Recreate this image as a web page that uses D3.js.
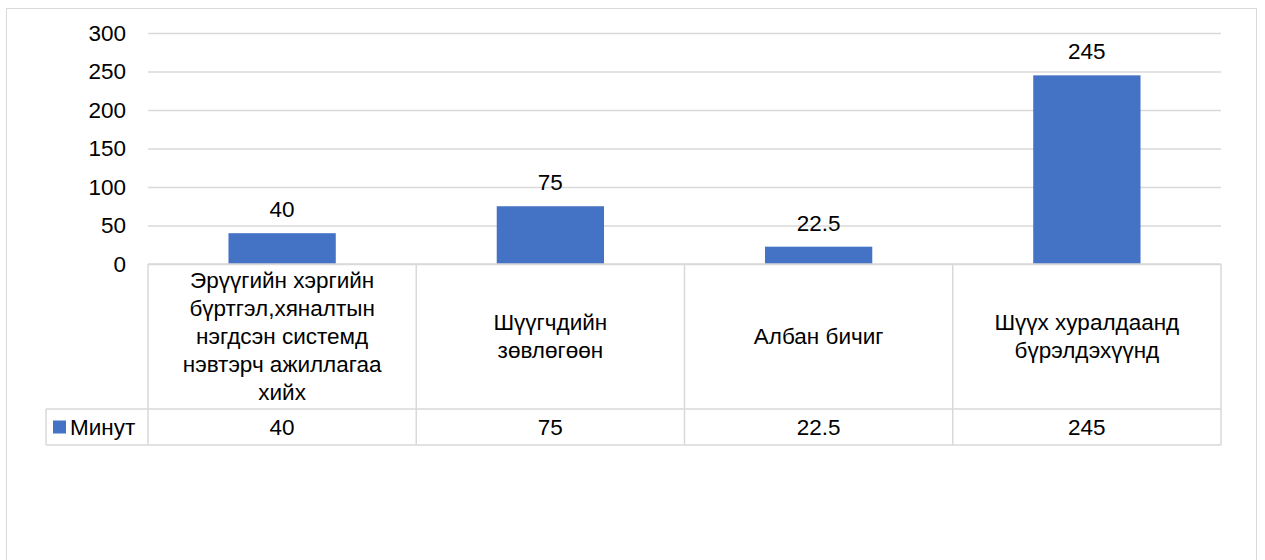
<!DOCTYPE html>
<html>
<head>
<meta charset="utf-8">
<script src="https://cdn.jsdelivr.net/npm/d3@7"></script>
<style>
  body { margin: 0; background: #fff; }
  svg text { font-family: "Liberation Sans", Arial, sans-serif; fill: #000; }
</style>
</head>
<body>
<div id="chart"></div>
<script>
const categories = [
    "Эрүүгийн хэргийн бүртгэл,хяналтын нэгдсэн системд нэвтэрч ажиллагаа хийх",
    "Шүүгчдийн зөвлөгөөн",
    "Албан бичиг",
    "Шүүх хуралдаанд бүрэлдэхүүнд"
];
const categoryLines = [
    ["Эрүүгийн хэргийн", "бүртгэл,хяналтын", "нэгдсэн системд", "нэвтэрч ажиллагаа", "хийх"],
    ["Шүүгчдийн", "зөвлөгөөн"],
    ["Албан бичиг"],
    ["Шүүх хуралдаанд", "бүрэлдэхүүнд"]
];
const seriesName = "Минут";
const minutes = [40, 75, 22.5, 245];
const yTicks = [0, 50, 100, 150, 200, 250, 300];

const width = 1265, height = 560;
const plot = {left: 148, right: 1221, top: 33, bottom: 264};
const table = {legendLeft: 46, headerBottom: 409, rowBottom: 445};
const barColor = "#4472C4";
const gridColor = "#d9d9d9";
const fontSize = 22.5;

const svg = d3.select("#chart")
    .append("svg")
    .attr("width", width)
    .attr("height", height);

// outer chart border
svg.append("rect")
    .attr("x", 6.5)
    .attr("y", 8.5)
    .attr("width", 1250)
    .attr("height", 570)
    .attr("fill", "#fff")
    .attr("stroke", gridColor);

const xScale = d3.scaleBand()
    .domain(categories)
    .range([plot.left, plot.right])
    .paddingInner(0)
    .paddingOuter(0);

const yScale = d3.scaleLinear()
    .domain([0, 300])
    .range([plot.bottom, plot.top]);

// gridlines
svg.append("g")
    .attr("transform", `translate(${plot.left},0)`)
    .call(d3.axisLeft(yScale).tickValues(yTicks).tickSize(-(plot.right - plot.left)).tickFormat(""))
    .call(g => g.select(".domain").remove())
    .call(g => g.selectAll("line").attr("stroke", gridColor).attr("stroke-width", 1.5));

// y tick labels
svg.append("g")
    .selectAll("text")
    .data(yTicks)
    .enter()
    .append("text")
    .attr("x", 126)
    .attr("y", d => yScale(d))
    .attr("dy", "0.35em")
    .attr("text-anchor", "end")
    .style("font-size", fontSize + "px")
    .text(d => d);

// bars
const barWidth = xScale.bandwidth() * 0.4;
svg.append("g")
    .selectAll("rect")
    .data(minutes)
    .enter()
    .append("rect")
    .attr("x", (d, i) => xScale(categories[i]) + (xScale.bandwidth() - barWidth) / 2)
    .attr("y", d => yScale(d))
    .attr("width", barWidth)
    .attr("height", d => yScale(0) - yScale(d))
    .attr("fill", barColor);

// data labels
svg.append("g")
    .selectAll("text")
    .data(minutes)
    .enter()
    .append("text")
    .attr("x", (d, i) => xScale(categories[i]) + xScale.bandwidth() / 2)
    .attr("y", d => yScale(d) - 16)
    .attr("text-anchor", "middle")
    .style("font-size", fontSize + "px")
    .text(d => d);

// data table
const tableG = svg.append("g")
    .attr("fill", "none")
    .attr("stroke", gridColor)
    .attr("stroke-width", 1.5);

tableG.append("line")
    .attr("x1", plot.left).attr("x2", plot.right)
    .attr("y1", plot.bottom).attr("y2", plot.bottom);
tableG.append("line")
    .attr("x1", table.legendLeft).attr("x2", plot.right)
    .attr("y1", table.headerBottom).attr("y2", table.headerBottom);
tableG.append("line")
    .attr("x1", table.legendLeft).attr("x2", plot.right)
    .attr("y1", table.rowBottom).attr("y2", table.rowBottom);
tableG.append("line")
    .attr("x1", table.legendLeft).attr("x2", table.legendLeft)
    .attr("y1", table.headerBottom).attr("y2", table.rowBottom);

const edges = categories.map(c => xScale(c)).concat([plot.right]);
tableG.selectAll("line.v")
    .data(edges)
    .enter()
    .append("line")
    .attr("class", "v")
    .attr("x1", d => d).attr("x2", d => d)
    .attr("y1", plot.bottom).attr("y2", table.rowBottom);

// category headers
const lineHeight = 28;
const headerMid = (plot.bottom + table.headerBottom) / 2;
categoryLines.forEach((lines, i) => {
    const cx = xScale(categories[i]) + xScale.bandwidth() / 2;
    const startY = headerMid - (lines.length - 1) * lineHeight / 2;
    const t = svg.append("text")
        .attr("text-anchor", "middle")
        .style("font-size", fontSize + "px");
    lines.forEach((ln, j) => {
        t.append("tspan")
            .attr("x", cx)
            .attr("y", startY + j * lineHeight)
            .attr("dy", "0.35em")
            .text(ln);
    });
});

// value row
const rowMid = (table.headerBottom + table.rowBottom) / 2;
svg.append("g")
    .selectAll("text")
    .data(minutes)
    .enter()
    .append("text")
    .attr("x", (d, i) => xScale(categories[i]) + xScale.bandwidth() / 2)
    .attr("y", rowMid)
    .attr("dy", "0.35em")
    .attr("text-anchor", "middle")
    .style("font-size", fontSize + "px")
    .text(d => d);

// legend key + series name
svg.append("rect")
    .attr("x", 53)
    .attr("y", rowMid - 6.5)
    .attr("width", 13)
    .attr("height", 13)
    .attr("fill", barColor);
svg.append("text")
    .attr("x", 70)
    .attr("y", rowMid)
    .attr("dy", "0.35em")
    .style("font-size", fontSize + "px")
    .text(seriesName);
</script>
</body>
</html>
